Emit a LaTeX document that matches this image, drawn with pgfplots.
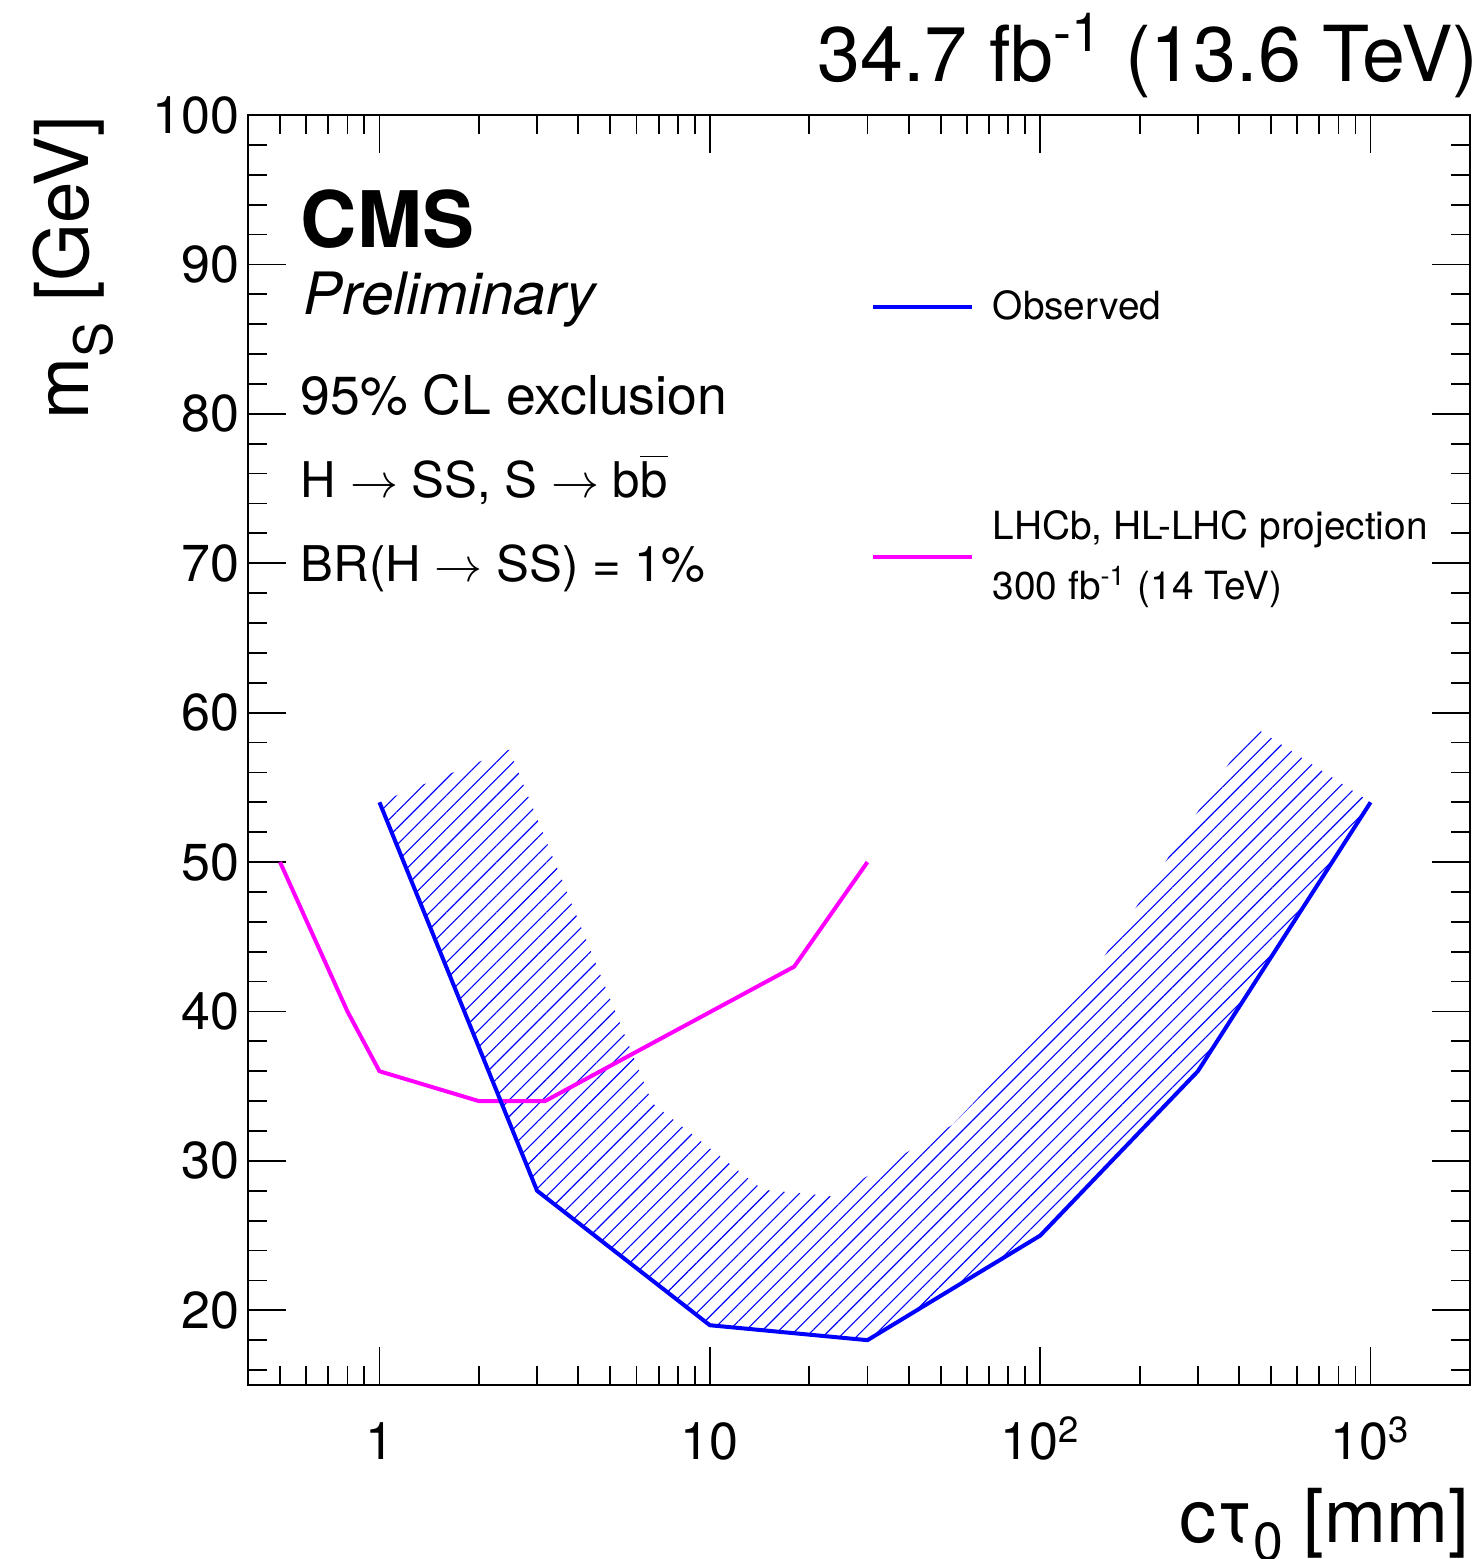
\documentclass[border=0pt]{standalone}
\usepackage{graphicx}
\usepackage{pgfplots}
\pgfplotsset{compat=1.18}
\usetikzlibrary{patterns.meta}
\usepackage{fontspec}
\setmainfont{TeX Gyre Heros}
\definecolor{rootmagenta}{RGB}{255,0,255}
\definecolor{rootblue}{RGB}{0,0,255}
\newcommand{\arr}{$\rightarrow$}
\begin{document}
\begin{tikzpicture}
\path[use as bounding box] (-62pt,-43.5pt) rectangle (308.25pt,346.25pt);
\begin{axis}[
  at={(0,0)}, anchor=south west,
  scale only axis, width=305.5pt, height=317.5pt,
  xmode=log, xmin=0.4, xmax=2000, ymin=15, ymax=100,
  xtick={1,10,100,1000},
  xticklabels={1,10,10\textsuperscript{2},10\textsuperscript{3}},
  minor xtick={0.5,0.6,0.7,0.8,0.9,2,3,4,5,6,7,8,9,20,30,40,50,60,70,80,90,200,300,400,500,600,700,800,900},
  ytick={20,30,...,100},
  minor ytick={16,18,...,98},
  tick align=inside, tick pos=both,
  major tick length=9.5pt, minor tick length=4.75pt,
  axis line style={line width=0.6pt},
  tick style={line width=0.45pt, black},
  tick label style={font=\fontsize{13}{15}\selectfont},
  /pgf/number format/assume math mode=true,
  yticklabel style={inner sep=0pt, xshift=-2pt},
  xticklabel style={anchor=base, inner sep=0pt, yshift=-18.75pt},
]
% hatched exclusion band (observed contour and its outer edge)
\addplot[draw=none, pattern={Lines[angle=45,distance=2.95pt,line width=0.28pt]}, pattern color=rootblue]
  coordinates {(1,54)(3,28)(10,19)(30,18)(100,25)(300,36)(1000,54)
  (440.6,59.09)(138.5,41.88)(54.2,32.40)(23.71,27.62)(14.45,28.07)(6.697,33.86)(2.471,57.52)} -- cycle;
% LHCb projection
\addplot[rootmagenta, line width=1pt] coordinates {(0.5,50)(0.8,40)(1,36)(2,34)(3.17,34)(18,43)(30,50)};
% observed
\addplot[rootblue, line width=1pt] coordinates {(1,54)(3,28)(10,19)(30,18)(100,25)(300,36)(1000,54)};
\end{axis}
\node[anchor=base east, inner sep=0pt, font=\fontsize{19.3}{22}\selectfont] at (307.75pt,325.75pt) {34.7 fb\textsuperscript{-1} (13.6 TeV)};
\node[anchor=base west, inner sep=0pt, font=\fontsize{19.5}{22}\selectfont\bfseries] at (13pt,284.25pt) {CMS};
\node[anchor=base west, inner sep=0pt, font=\fontsize{14.6}{17}\selectfont\itshape] at (13.75pt,267.5pt) {Preliminary};
\node[anchor=base west, inner sep=0pt, font=\fontsize{13.4}{16}\selectfont] at (13pt,242.5pt) {95\% CL exclusion};
\node[anchor=base west, inner sep=0pt, font=\fontsize{12.3}{15}\selectfont] at (13pt,221.75pt) {H \arr{} SS, S \arr{} b$\overline{\mbox{b}}$};
\node[anchor=base west, inner sep=0pt, font=\fontsize{12.3}{15}\selectfont] at (13pt,200.75pt) {BR(H \arr{} SS) = 1\%};
% legend
\draw[rootblue, line width=1pt] (156.25pt,269.5pt) -- (181pt,269.5pt);
\node[anchor=base west, inner sep=0pt, font=\fontsize{9.7}{11}\selectfont] at (186pt,266.25pt) {Observed};
\draw[rootmagenta, line width=1pt] (156.25pt,207pt) -- (181pt,207pt);
\node[anchor=base west, inner sep=0pt, font=\fontsize{9.7}{11}\selectfont] at (186pt,211.25pt) {LHCb, HL-LHC projection};
\node[anchor=base west, inner sep=0pt, font=\fontsize{9.7}{11}\selectfont] at (186pt,196.25pt) {300 fb\textsuperscript{-1} (14 TeV)};
% axis titles
\node[anchor=base east, inner sep=0pt, font=\fontsize{18.6}{22}\selectfont] at (305.5pt,-39.25pt) {cτ\raisebox{-4.5pt}{\fontsize{13.4}{15}\selectfont 0} [mm]};
\node[rotate=90, anchor=base east, inner sep=0pt, font=\fontsize{18.6}{22}\selectfont] at (-39.75pt,317.5pt) {m\raisebox{-6pt}{\fontsize{13.2}{15}\selectfont S} [GeV]};
\end{tikzpicture}
\end{document}
